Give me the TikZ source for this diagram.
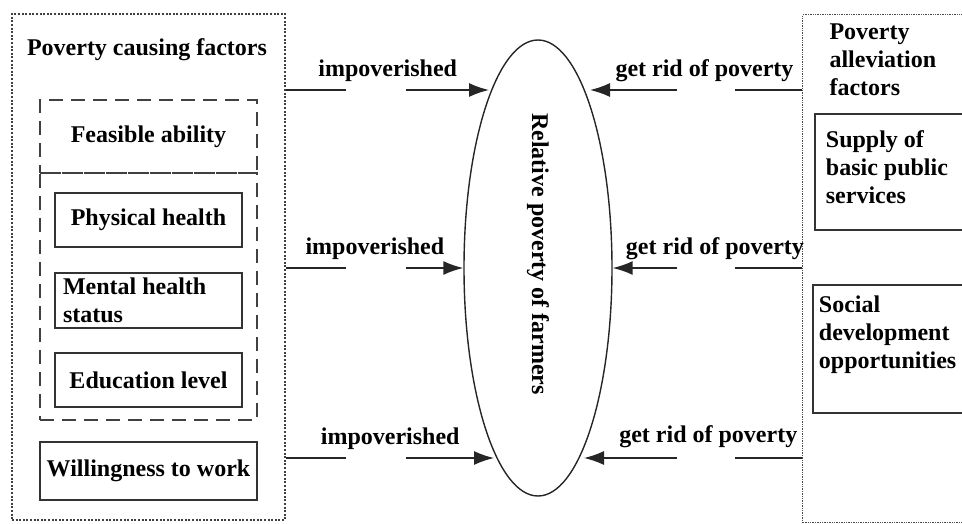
\documentclass[tikz,border=0pt]{standalone}
\usepackage{fontspec}
\setmainfont{Liberation Serif}
\usetikzlibrary{shapes.geometric,arrows.meta}

\tikzset{
  every node/.style={font=\fontsize{24}{28}\selectfont\bfseries},
}

\begin{document}
\begin{tikzpicture}[x=1pt,y=-1pt,
  groupbox/.style={draw=black!75, line width=2.8pt, dash pattern=on 2pt off 1.6pt},
  reliefbox/.style={draw=black!70, line width=1.4pt, densely dotted},
  dashgroup/.style={draw=black!75, line width=1.6pt, dash pattern=on 14pt off 8pt},
  factorbox/.style={draw=black!80, line width=1.8pt, inner sep=0pt},
  impov/.style={draw=black!85, line width=1.5pt,
    dash pattern=on 60pt off 60pt on 500pt off 1pt,
    -{Latex[length=20pt,width=14pt]}},
  getrid/.style={impov, dash pattern=on 67pt off 58pt on 500pt off 1pt}]
  \useasboundingbox (0,0) rectangle (962,523);

  % poverty causing factors
  \node[groupbox, minimum width=273pt, minimum height=506pt] (causes) at (148.5,267) {};
  \node (causetitle) at (147,50) {Poverty causing factors};
  \node[dashgroup, minimum width=217pt, minimum height=73pt] (ability) at (148.5,136.5) {Feasible ability};
  \node[dashgroup, minimum width=217pt, minimum height=247pt] (health) at (148.5,296.5) {};
  \node[factorbox, minimum width=187pt, minimum height=54pt] (physical) at (148.5,220) {Physical health};
  \node[factorbox, text width=171pt, inner xsep=8pt, align=flush left, minimum height=55pt] (mental) at (148.5,300.5) {Mental health\\status};
  \node[factorbox, minimum width=187pt, minimum height=54pt] (education) at (148.5,380) {Education level};
  \node[factorbox, minimum width=217pt, minimum height=58pt] (willing) at (148.5,471) {Willingness to work};

  % poverty alleviation factors
  \node[reliefbox, anchor=north west, minimum width=180pt, minimum height=508pt] (relief) at (802,14) {};
  \node[align=flush left, anchor=west] (relieftitle) at (826,60) {Poverty\\alleviation\\factors};
  \node[factorbox, anchor=north west, text width=140pt, inner xsep=11pt, inner ysep=4pt,
        align=flush left, text height=30pt, text depth=78pt] (supply) at (814,113) {Supply of\\basic public\\services};
  \node[factorbox, anchor=north west, text width=140pt, inner xsep=6pt, inner ysep=4pt,
        align=flush left, text height=24pt, text depth=96pt] (social) at (812,284) {Social\\development\\opportunities};

  % relative poverty
  \node[draw=black!85, line width=1.4pt, ellipse, rotate=-90, inner sep=0pt,
        minimum width=456pt, minimum height=148pt] (rel) at (538,268) {Relative poverty of farmers\hspace*{28pt}};
  \coordinate (t1l) at (489,90);
  \coordinate (t1r) at (590,90);
  \coordinate (t3l) at (494,458);
  \coordinate (t3r) at (584,458);

  \draw[impov] (causes.east |- t1l) -- node[midway, above=4pt, text=black] {impoverished} (t1l);
  \draw[impov] (causes.east |- rel.south) -- node[midway, above=4pt, text=black] {impoverished} (rel.south);
  \draw[impov] (causes.east |- t3l) -- node[midway, above=4pt, text=black] {impoverished} (t3l);

  \draw[getrid] (relief.west |- t1r) -- node[pos=.46, above=4pt, text=black] {get rid of poverty} (t1r);
  \draw[getrid] (relief.west |- rel.north) -- node[pos=.46, above=4pt, text=black] {get rid of poverty} (rel.north);
  \draw[getrid] (relief.west |- t3r) -- node[pos=.43, above=6pt, text=black] {get rid of poverty} (t3r);
\end{tikzpicture}
\end{document}
